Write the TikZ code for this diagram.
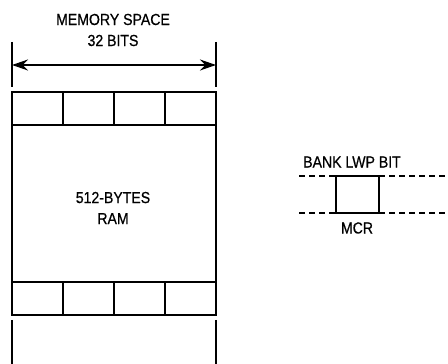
\documentclass[tikz,border=0pt]{standalone}
\usepackage{fontspec}
\setmainfont[FakeStretch=0.88, FakeBold=0.6]{Liberation Sans}
\usetikzlibrary{arrows.meta}

\begin{document}
\begin{tikzpicture}[x=1pt, y=1pt, line width=1.6pt,
		label/.style={font=\fontsize{16}{21}\selectfont, align=center, inner sep=0pt}]
					\useasboundingbox (0, 0) rectangle (448, 364);
					
					% memory width marker
					\draw (12, 322) -- (12, 277);
					\draw (216, 322) -- (216, 277);
					\coordinate (wl) at (12, 299);
					\coordinate (wr) at (216, 299);
					\draw[{Stealth[length=16pt, width=11pt]}-{Stealth[length=16pt, width=11pt]}, line width=1.4pt] (wl) -- (wr);
					\node[label] (space) at (113, 334) {MEMORY SPACE\\32 BITS};
					
					% ram block
					\draw (12, 272) rectangle (216, 49);
					\draw (12, 239) -- (216, 239);
					\draw (12, 82) -- (216, 82);
					\foreach \x in {63, 114, 165} {
						\draw (\x, 272) -- (\x, 239);
						\draw (\x, 82) -- (\x, 49);
					}
					\draw (12, 44) -- (12, 0);
					\draw (216, 44) -- (216, 0);
					\node[label] (ram) at (113, 156) {512-BYTES\\RAM};
					
					% bank lwp bit
					\draw[dashed, dash pattern=on 6pt off 4pt] (299, 188) -- (336, 188);
					\draw[dashed, dash pattern=on 6pt off 4pt] (379, 188) -- (448, 188);
					\draw[dashed, dash pattern=on 6pt off 4pt] (299, 151) -- (336, 151);
					\draw[dashed, dash pattern=on 6pt off 4pt] (379, 151) -- (448, 151);
					\draw (336, 188) rectangle (379, 151);
					\node[label] (lwp) at (352, 202) {BANK LWP BIT};
					\node[label] (mcr) at (357, 136) {MCR};
				\end{tikzpicture}
\end{document}
